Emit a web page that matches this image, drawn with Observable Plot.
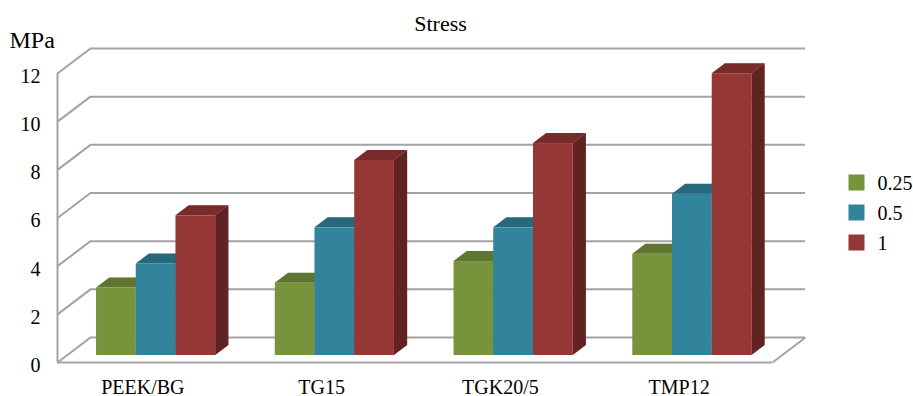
<!DOCTYPE html>
<html>
<head>
<meta charset="utf-8">
<script src="https://cdn.jsdelivr.net/npm/d3@7"></script>
<script src="https://cdn.jsdelivr.net/npm/@observablehq/plot@0.6"></script>
<style>
  body { margin: 0; background: #fff; }
  #chart { position: relative; width: 913px; height: 396px; }
  #chart svg { position: absolute; top: 0; }
  #chart svg, #chart svg text { font-family: "Liberation Serif", Tinos, "Times New Roman", "DejaVu Serif", serif !important; }
</style>
</head>
<body>
<div id="chart"></div>
<script>
// Stress (MPa) per material, one bar per load level
const categories = ["PEEK/BG", "TG15", "TGK20/5", "TMP12"];
const series = ["0.25", "0.5", "1"];
const values025 = [2.8, 3.0, 3.9, 4.2];
const values05 = [3.8, 5.3, 5.3, 6.7];
const values1 = [5.8, 8.1, 8.8, 11.7];
const yTicks = [0, 2, 4, 6, 8, 10, 12];
const colors = ["#77933c", "#31849b", "#953735"];

const seriesValues = [values025, values05, values1];

// Layout of the main plot
const W = 913, H = 396, ML = 57, MR = 141, MT = 73, MB = 34;
const n = categories.length;
const yMax = 12;
const pxX = (W - ML - MR) / n;
const pxY = (H - MT - MB) / yMax;

// Oblique 3D projection: full depth of the box in pixels, converted to data units
const DX = 33 / pxX, DY = 25 / pxY;
const ox = d => d * DX, oy = d => d * DY;
const slabFront = 0.28, slabBack = 0.68;   // depth range occupied by the columns
const groupPad = 1 / 6;
const barW = (1 - 2 * groupPad) / series.length;

const bars = categories.flatMap((category, i) =>
  series.map((s, j) => {
    const x0 = i + groupPad + j * barW;
    return {category, series: s, value: seriesValues[j][i], x0, x1: x0 + barW, key: category + "|" + s};
  })
);

// Top faces: parallelogram between the front and back top edges
const tops = bars.flatMap(b => [slabFront, slabBack].map(d => ({
  key: b.key, series: b.series, y: b.value + oy(d), x1: b.x0 + ox(d), x2: b.x1 + ox(d)
})));
// Right side faces
const sides = bars.flatMap(b => [slabFront, slabBack].map(d => ({
  key: b.key, series: b.series, x: b.x1 + ox(d), y1: oy(d), y2: b.value + oy(d)
})));

const grid = {stroke: "#a3a3a3", strokeWidth: 2};
const serif = "'Liberation Serif', Tinos, 'Times New Roman', 'DejaVu Serif', serif";

const chart = Plot.plot({
  width: W, height: H,
  marginLeft: ML, marginRight: MR, marginTop: MT, marginBottom: MB,
  style: {fontFamily: serif, fontSize: "20px", background: "transparent", overflow: "visible"},
  x: {domain: [0, n], label: null},
  y: {domain: [0, yMax], label: null},
  color: {domain: series, range: colors},
  marks: [
    // back wall gridlines
    Plot.ruleY(yTicks, {y: v => v + DY, x1: DX, x2: n + DX, ...grid}),
    // side wall gridlines
    Plot.link(yTicks, {x1: 0, y1: v => v, x2: DX, y2: v => v + DY, ...grid}),
    Plot.ruleX([0], {y1: 0, y2: yMax, ...grid}),
    // floor outline
    Plot.ruleY([0], {x1: 0, x2: n, ...grid}),
    Plot.link([0], {x1: n, y1: 0, x2: n + DX, y2: DY, ...grid}),
    // column tops and sides
    Plot.areaX(tops, {y: "y", x1: "x1", x2: "x2", z: "key", fill: "series"}),
    Plot.areaX(tops, {y: "y", x1: "x1", x2: "x2", z: "key", fill: "black", fillOpacity: 0.2}),
    Plot.areaY(sides, {x: "x", y1: "y1", y2: "y2", z: "key", fill: "series"}),
    Plot.areaY(sides, {x: "x", y1: "y1", y2: "y2", z: "key", fill: "black", fillOpacity: 0.35}),
    // column fronts
    Plot.rect(bars, {
      x1: b => b.x0 + ox(slabFront), x2: b => b.x1 + ox(slabFront),
      y1: oy(slabFront), y2: b => b.value + oy(slabFront),
      fill: "series"
    }),
    Plot.axisY({ticks: yTicks, tickSize: 0, tickPadding: 17, dy: 3, fontFamily: serif}),
    Plot.axisX({
      ticks: categories.map((c, i) => i + 0.5),
      tickFormat: t => categories[Math.floor(t)],
      tickSize: 0, tickPadding: 17, dx: -4, fontFamily: serif
    }),
    Plot.text(["MPa"], {frameAnchor: "top-left", dx: 9 - ML, dy: 47 - MT, textAnchor: "start", lineAnchor: "bottom", fontSize: 24, fontFamily: serif}),
    Plot.text(["Stress"], {frameAnchor: "top-left", dx: 440 - ML, dy: 30 - MT, textAnchor: "middle", lineAnchor: "bottom", fontSize: 22, fontFamily: serif})
  ]
});
chart.style.left = "0px";

// Legend
const legend = Plot.plot({
  width: 83, height: H,
  margin: 0,
  style: {fontFamily: serif, fontSize: "20px", background: "transparent", overflow: "visible"},
  y: {type: "point", domain: series, range: [167, 257], axis: null},
  color: {domain: series, range: colors},
  marks: [
    Plot.dot(series, {y: d => d, fill: d => d, symbol: "square", r: 9.03, frameAnchor: "left", dx: 26, stroke: null}),
    Plot.text(series, {y: d => d, text: d => d, frameAnchor: "left", dx: 47, dy: 1.5, textAnchor: "start", fontFamily: serif})
  ]
});
legend.style.left = "830px";

const root = document.getElementById("chart");
root.appendChild(chart);
root.appendChild(legend);
</script>
</body>
</html>
